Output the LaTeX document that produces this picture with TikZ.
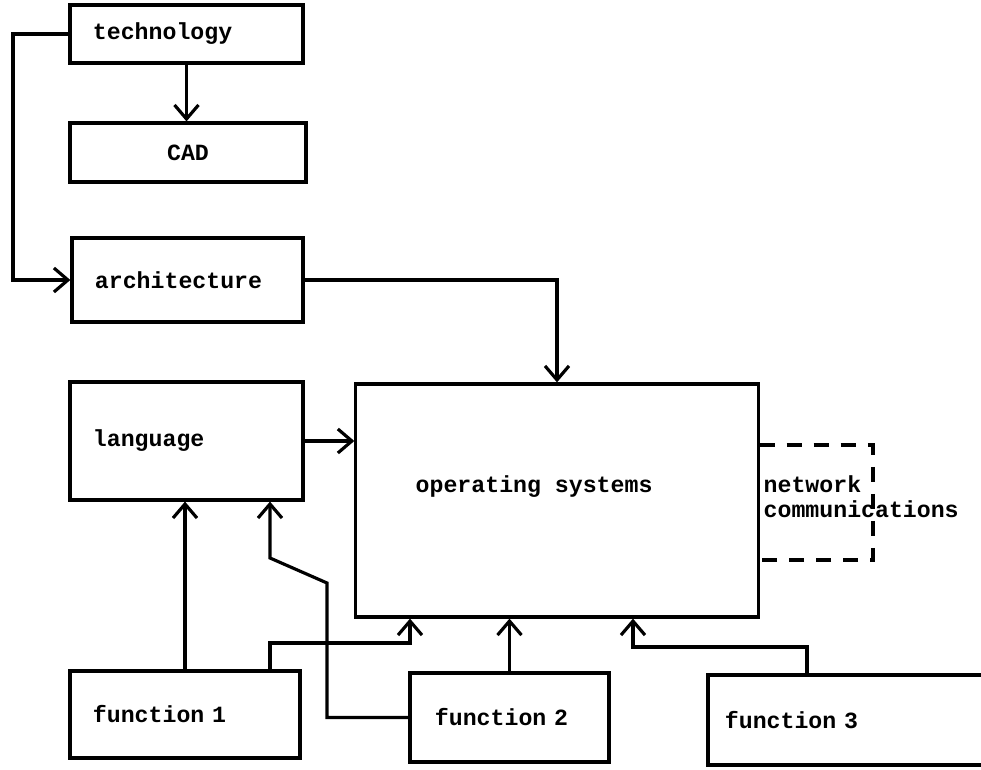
\documentclass[tikz,border=0pt]{standalone}
\usepackage{fontspec}
\setmonofont{Liberation Mono}
\usetikzlibrary{arrows.meta}
\tikzset{
  box/.style={draw, line width=.9pt, inner xsep=0.23cm, align=left,
    font=\ttfamily\bfseries\fontsize{6.6pt}{7.1pt}\selectfont},
  lbl/.style={inner sep=0pt, align=left,
    font=\ttfamily\bfseries\fontsize{6.6pt}{7.1pt}\selectfont},
  arr/.style={->, line width=.9pt},
  wire/.style={line width=.9pt},
  >={Straight Barb[length=1.4mm,width=2.4mm]}
}
\begin{document}
\begin{tikzpicture}[x=0.01cm,y=-0.01cm]
\useasboundingbox (0,0) rectangle (981,770);
\node[box, text width=1.87cm, minimum height=0.58cm] (tech) at (186.5,34){technology};
\node[box, text width=1.90cm, minimum height=0.59cm, align=center] (cad) at (188,152.5){CAD};
\node[box, text width=1.85cm, minimum height=0.84cm] (arch) at (187.5,280){architecture};
\node[box, text width=1.87cm, minimum height=1.18cm] (lang) at (186.5,441){language\\[0.18cm]};
\node[box, minimum width=4.02cm, minimum height=2.33cm] (os) at (557,500.5){};
\node[lbl, anchor=west] (os-t) at (415,487){operating systems};
\node[box, text width=1.84cm, minimum height=0.87cm] (f1) at (185,714.5){function 1};
\node[box, text width=1.49cm, minimum height=0.89cm, inner xsep=0.25cm] (f2) at (509.5,717.5){function 2};
\node[box, text width=2.58cm, minimum height=0.90cm, inner xsep=0.17cm] (f3) at (854,720){function 3};
\node[lbl, anchor=west] (net) at (763,497){network\\communications};
% bends
\coordinate (k0) at (13,160);
\coordinate (k1) at (270,643);
\coordinate (k2) at (410,643);
\coordinate (k3) at (327,583);
\coordinate (k4) at (270,558);
\coordinate (k5) at (807,647);
\coordinate (k6) at (633,647);
\draw[arr](tech.south) -- (tech.south |- cad.north);
\draw[arr](tech.west) -| (k0) |- (arch.west);
\draw[arr](arch.east) -| (os.north);
\draw[arr](lang.east) -- (lang.east -| os.west);
\draw[arr](f1.north) -- (f1.north |- lang.south);
\draw[arr](k1 |- f1.north) -- (k1) -- (k2) -- (k2 |- os.south);
\draw[arr](f2.west) -| (k3) -- (k4) -- (k4 |- lang.south);
\draw[arr](f2.north) -- (f2.north |- os.south);
\draw[arr](k5 |- f3.north) -- (k5) -- (k6) -- (k6 |- os.south);
\draw[wire, dash pattern=on 0.15cm off 0.12cm](os.east |- 0,445) -| (873,560) -- (os.east |- 0,560);
\end{tikzpicture}
\end{document}
